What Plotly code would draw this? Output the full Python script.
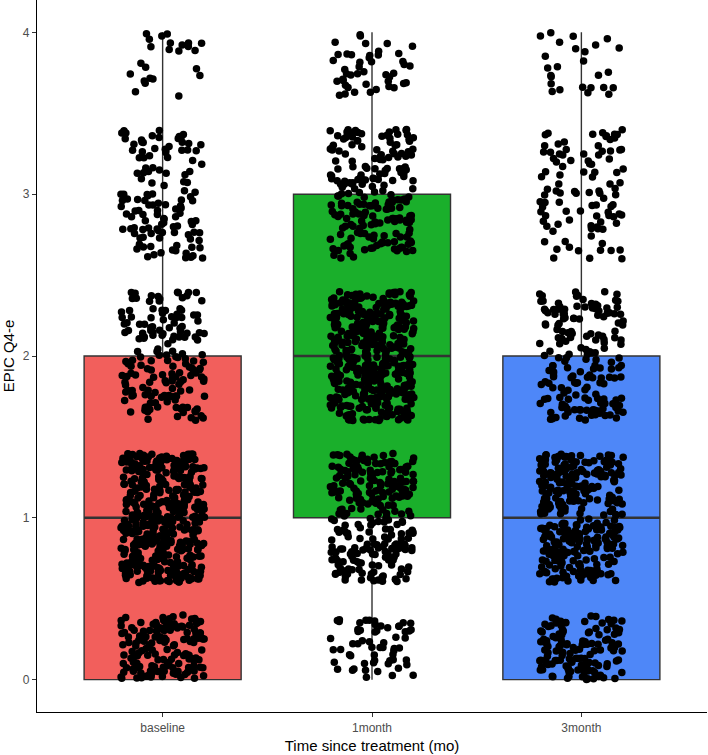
import numpy as np
import plotly.graph_objects as go

# ---- data ----
GROUPS = ["baseline", "1month", "3month"]
LEVELS = [0, 1, 2, 3, 4]
# visible (jittered) point counts per level, per group
COUNTS_BASELINE = [155, 450, 170, 125, 24]
COUNTS_1MONTH = [60, 260, 430, 215, 45]
COUNTS_3MONTH = [135, 350, 175, 100, 26]
COUNTS = [COUNTS_BASELINE, COUNTS_1MONTH, COUNTS_3MONTH]

# box statistics per group
Q1 = [0, 1, 0]
MEDIAN = [1, 2, 1]
Q3 = [2, 3, 2]
LOWER = [0, 0, 0]
UPPER = [4, 4, 4]

FILLS = ["#F25F5C", "#1AAF2B", "#4E87F8"]
YTICKS = [0, 1, 2, 3, 4]

# ---- styling ----
BOX_W = 0.75
JIT_X = 0.2
JIT_Y = 0.4
OUTLINE = "#333333"
FONT = "Liberation Sans, Arial, sans-serif"

rng = np.random.default_rng(7)  # jitter offsets only (like geom_jitter)

fig = go.Figure()

for i, g in enumerate(GROUPS):
    fig.add_trace(go.Box(
        x=[i], q1=[Q1[i]], median=[MEDIAN[i]], q3=[Q3[i]],
        lowerfence=[LOWER[i]], upperfence=[UPPER[i]],
        width=BOX_W, fillcolor=FILLS[i],
        line=dict(color=OUTLINE, width=1.4),
        whiskerwidth=0, boxpoints=False, showlegend=False,
        hoverinfo="skip",
    ))

# thicker median lines (ggplot fatten)
for i, g in enumerate(GROUPS):
    fig.add_trace(go.Scatter(
        x=[i - BOX_W / 2, i + BOX_W / 2], y=[MEDIAN[i], MEDIAN[i]],
        mode="lines", line=dict(color=OUTLINE, width=2.6),
        showlegend=False, hoverinfo="skip",
    ))

xs, ys = [], []
lo_lvl, hi_lvl = min(LEVELS), max(LEVELS)
for i, g in enumerate(GROUPS):
    for lvl, n in zip(LEVELS, COUNTS[i]):
        dx = rng.uniform(-JIT_X, JIT_X, n)
        lo = 0 if lvl == lo_lvl else -JIT_Y
        hi = 0 if lvl == hi_lvl else JIT_Y
        dy = rng.uniform(lo, hi, n)
        xs.extend(i + dx)
        ys.extend(lvl + dy)

fig.add_trace(go.Scatter(
    x=xs, y=ys, mode="markers",
    marker=dict(color="black", size=7.5, line=dict(width=0)),
    showlegend=False, hoverinfo="skip",
))

fig.update_layout(
    width=708, height=755,
    margin=dict(l=37, r=1, t=0, b=43),
    paper_bgcolor="white", plot_bgcolor="white",
    font=dict(family=FONT),
    showlegend=False,
)
fig.update_xaxes(
    range=[-0.6, len(GROUPS) - 0.4],
    tickvals=list(range(len(GROUPS))), ticktext=GROUPS,
    showgrid=False, zeroline=False,
    showline=True, linecolor="black", linewidth=1.3,
    ticks="outside", ticklen=4, tickcolor=OUTLINE, tickwidth=1.1,
    tickfont=dict(size=12, color="#4D4D4D", family=FONT),
    title=dict(text="Time since treatment (mo)", font=dict(size=15, color="black", family=FONT), standoff=6),
    automargin=False,
)
fig.update_yaxes(
    range=[-0.2, 4.2],
    tickvals=YTICKS, ticktext=[str(v) for v in YTICKS],
    showgrid=False, zeroline=False,
    showline=True, linecolor="black", linewidth=1.3,
    ticks="outside", ticklen=4, tickcolor=OUTLINE, tickwidth=1.1,
    tickfont=dict(size=12, color="#4D4D4D", family=FONT),
    title=dict(text="EPIC Q4-e", font=dict(size=15, color="black", family=FONT), standoff=4),
    automargin=False,
)

fig.write_html("out.html")
